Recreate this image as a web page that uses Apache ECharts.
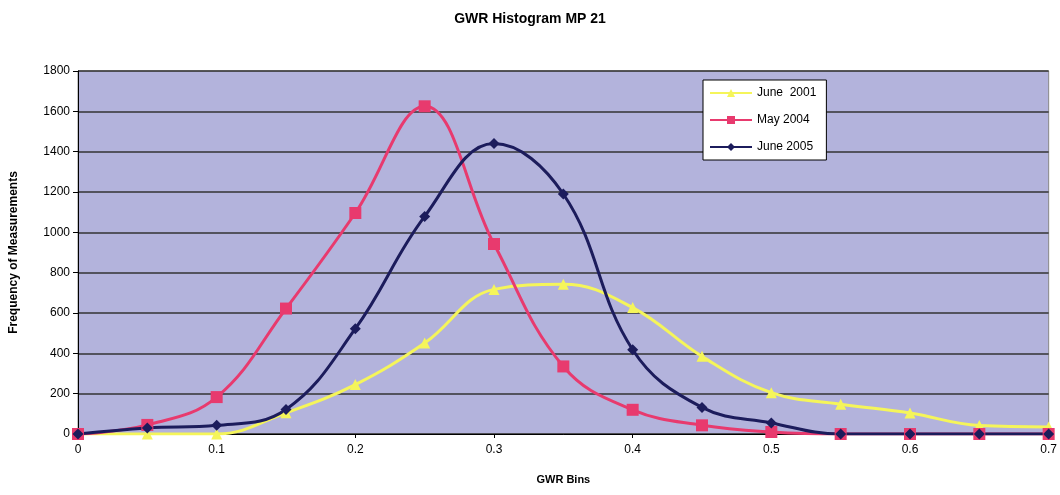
<html lang="en">
<head>
    <meta charset="UTF-8">
    <title>GWR Histogram MP 21</title>
    <script type="text/javascript" src="https://cdn.jsdelivr.net/npm/echarts@6/dist/echarts.min.js"></script>
</head>
<style>
    html, body { margin: 0; padding: 0; background: #fff; }
    #container { width: 1060px; height: 495px; }
</style>
<body>
<div id="container"></div>
<script>
    // GWR bins (x) and frequency per series
    var bins = [0, 0.05, 0.1, 0.15, 0.2, 0.25, 0.3, 0.35, 0.4, 0.45, 0.5, 0.55, 0.6, 0.65, 0.7];
    var june2001 = [0, 0, 0, 105, 245, 451, 717, 742, 627, 385, 205, 148, 104, 42, 35];
    var may2004 = [0, 45, 183, 622, 1096, 1625, 942, 335, 120, 43, 10, 0, 0, 0, 0];
    var june2005 = [0, 30, 43, 122, 522, 1079, 1440, 1190, 418, 132, 55, 0, 0, 0, 0];
    var seriesNames = ['June  2001', 'May 2004', 'June 2005'];

    function pairs(values) {
        return bins.map(function (b, i) { return [b, values[i]]; });
    }

    var chart = echarts.init(document.getElementById('container'));

    var font = 'Arial, "Liberation Sans", sans-serif';

    var option = {
        animation: false,
        title: {
            text: 'GWR Histogram MP 21',
            left: 'center',
            top: 7,
            textStyle: { fontFamily: font, fontSize: 14, fontWeight: 'bold', color: '#000' }
        },
        legend: {
            orient: 'vertical',
            left: 703,
            top: 80,
            padding: [6, 10, 6, 6],
            itemGap: 13,
            itemWidth: 42,
            itemHeight: 10,
            backgroundColor: '#fff',
            borderColor: '#000',
            borderWidth: 1,
            textStyle: { fontFamily: font, fontSize: 12, color: '#000', lineHeight: 14 },
            data: seriesNames
        },
        grid: {
            left: 76,
            right: 10,
            top: 71,
            bottom: 61,
            show: true,
            backgroundColor: '#b3b3dc',
            borderColor: '#888',
            borderWidth: 1
        },
        xAxis: {
            type: 'value',
            min: 0,
            max: 0.7,
            interval: 0.1,
            name: 'GWR Bins',
            nameLocation: 'middle',
            nameGap: 40,
            nameTextStyle: { fontFamily: font, fontSize: 11, fontWeight: 'bold', color: '#000' },
            axisLine: { onZero: false, lineStyle: { color: '#000', width: 1 } },
            axisTick: { show: true, inside: false, length: 4, lineStyle: { color: '#000' } },
            axisLabel: { fontFamily: font, fontSize: 12, color: '#000', margin: 10 },
            splitLine: { show: false }
        },
        yAxis: {
            type: 'value',
            min: 0,
            max: 1800,
            interval: 200,
            name: 'Frequency of Measurements',
            nameLocation: 'middle',
            nameGap: 58,
            nameTextStyle: { fontFamily: font, fontSize: 12, fontWeight: 'bold', color: '#000' },
            axisLine: { show: true, lineStyle: { color: '#000', width: 1 } },
            axisTick: { show: true, length: 5, lineStyle: { color: '#000' } },
            axisLabel: {
                fontFamily: font, fontSize: 12, color: '#000', margin: 8,
                formatter: function (v) { return String(v); }
            },
            splitLine: { show: true, lineStyle: { color: '#333', width: 1.5 } }
        },
        series: [
            {
                name: seriesNames[0],
                type: 'line',
                smooth: 0.4,
                data: pairs(june2001),
                symbol: 'triangle',
                symbolSize: 11,
                lineStyle: { color: '#f5f55a', width: 3 },
                itemStyle: { color: '#f5f55a' }
            },
            {
                name: seriesNames[1],
                type: 'line',
                smooth: 0.4,
                data: pairs(may2004),
                symbol: 'rect',
                symbolSize: 12,
                lineStyle: { color: '#e83a6e', width: 3 },
                itemStyle: { color: '#e83a6e' }
            },
            {
                name: seriesNames[2],
                type: 'line',
                smooth: 0.4,
                data: pairs(june2005),
                symbol: 'diamond',
                symbolSize: 11,
                lineStyle: { color: '#1c1c5c', width: 3 },
                itemStyle: { color: '#1c1c5c' }
            }
        ]
    };

    chart.setOption(option);
</script>
</body>
</html>
